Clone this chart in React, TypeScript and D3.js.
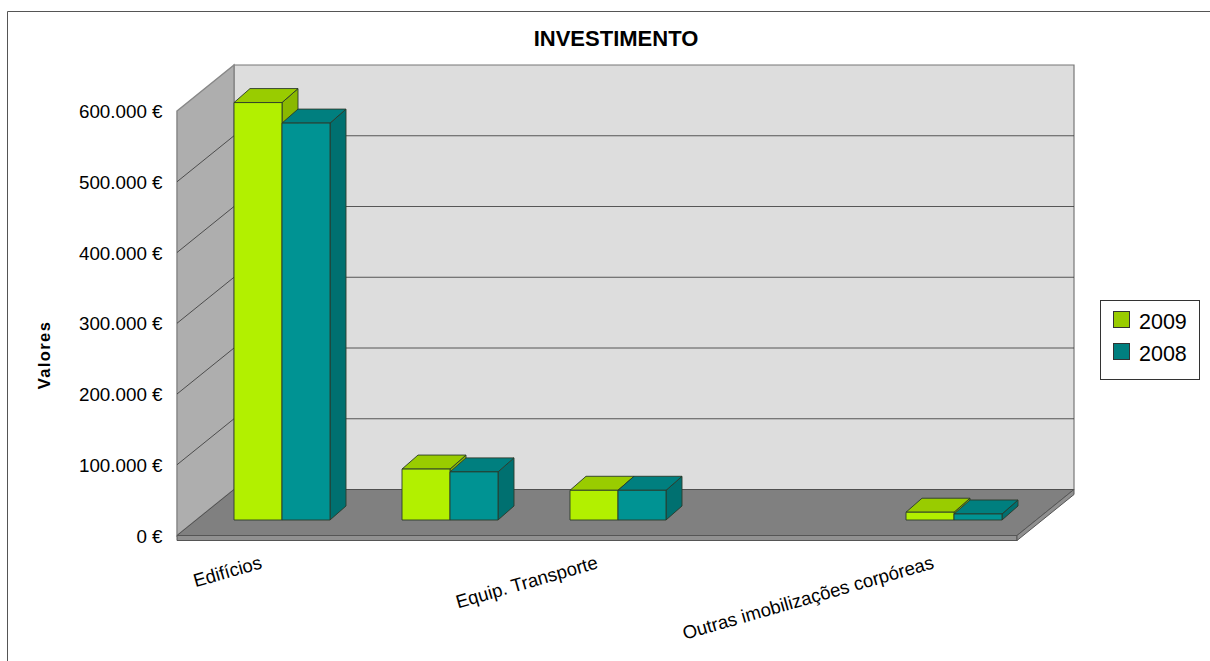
import React from "react";
import * as d3 from "d3";

const categories = ["Edifícios", "", "Equip. Transporte", "", "Outras imobilizações corpóreas"];
const slotIndex = [0, 1, 2, 4];
const series2009 = [590000, 72000, 42000, 11000];
const series2008 = [561000, 68000, 42000, 8500];
const seriesNames = ["2009", "2008"];
const ticks = [0, 100000, 200000, 300000, 400000, 500000, 600000];
const tickLabels = ["0 €", "100.000 €", "200.000 €", "300.000 €", "400.000 €", "500.000 €", "600.000 €"];

const FONT = "'Liberation Sans', Arial, sans-serif";
const DX = 57, DY = -46;
const BDX = 16, BDY = -14;
const BAR_Y_OFFSET = -15.5;

const x = d3.scaleBand<number>().domain(d3.range(categories.length)).range([177, 1017]);
const y = d3.scaleLinear().domain([0, 600000]).range([535.5, 111]);

const poly = (pts: [number, number][]) => pts.map(p => p.join(",")).join(" ");

const colours = [
  { front: "#b2f000", top: "#99cc00", side: "#8ab800" },
  { front: "#009393", top: "#007f7f", side: "#007070" },
];

function Bar({ x0, x1, v, c }: { x0: number; x1: number; v: number; c: typeof colours[0] }) {
  const base = y(0) + BAR_Y_OFFSET;
  const top = y(v) + BAR_Y_OFFSET;
  const edge = { stroke: "#2a3a2a", strokeWidth: 0.9, strokeLinejoin: "round" as const };
  return (
    <g>
      <polygon points={poly([[x1, base], [x1 + BDX, base + BDY], [x1 + BDX, top + BDY], [x1, top]])} fill={c.side} {...edge} />
      <polygon points={poly([[x0, top], [x0 + BDX, top + BDY], [x1 + BDX, top + BDY], [x1, top]])} fill={c.top} {...edge} />
      <rect x={x0} y={top} width={x1 - x0} height={base - top} fill={c.front} {...edge} />
    </g>
  );
}

export default function App() {
  const floorL = x.range()[0], floorR = x.range()[1];
  const y0 = y(0), yMax = y(600000);
  const barW = 48;
  const inset = 57;
  return (
    <svg width={1210} height={661} style={{ position: "absolute", left: 0, top: 0, display: "block" }} fontFamily={FONT}>
      <rect width={1210} height={661} fill="#fff" />
      <path d="M7.5,661V11.5H1210" fill="none" stroke="#555" strokeWidth={1} />

      <text x={616} y={46} textAnchor="middle" fontSize={22} fontWeight="bold" fill="#000">INVESTIMENTO</text>

      {/* walls */}
      <polygon points={poly([[floorL + DX, yMax + DY], [floorR + DX, yMax + DY], [floorR + DX, y0 + DY], [floorL + DX, y0 + DY]])} fill="#dddddd" stroke="#777" strokeWidth={1.2} />
      <polygon points={poly([[floorL, yMax], [floorL + DX, yMax + DY], [floorL + DX, y0 + DY], [floorL, y0]])} fill="#aeaeae" stroke="#888" strokeWidth={1.5} />
      <polygon points={poly([[floorL, y0], [floorL + DX, y0 + DY], [floorR + DX, y0 + DY], [floorR, y0]])} fill="#808080" stroke="#444" strokeWidth={0.8} />
      <polygon points={poly([[floorL, y0], [floorR, y0], [floorR, y0 + 5], [floorL, y0 + 5]])} fill="#909090" stroke="#555" strokeWidth={1} />
      <polygon points={poly([[floorR, y0], [floorR + DX, y0 + DY], [floorR + DX, y0 + DY + 5], [floorR, y0 + 5]])} fill="#909090" stroke="#555" strokeWidth={1} />

      {/* gridlines */}
      {ticks.slice(1, -1).map(t => (
        <g key={t} stroke="#333" strokeWidth={0.8}>
          <line x1={floorL} y1={y(t)} x2={floorL + DX} y2={y(t) + DY} />
          <line x1={floorL + DX} y1={y(t) + DY} x2={floorR + DX} y2={y(t) + DY} />
        </g>
      ))}

      {/* bars: 2009 first, 2008 in front of its side face */}
      {slotIndex.map((s, i) => {
        const x0 = x(s)! + inset;
        return (
          <g key={s}>
            <Bar x0={x0} x1={x0 + barW} v={series2009[i]} c={colours[0]} />
            <Bar x0={x0 + barW} x1={x0 + barW * 2} v={series2008[i]} c={colours[1]} />
          </g>
        );
      })}

      {/* value axis */}
      {ticks.map((t, i) => (
        <text key={t} x={162.5} y={y(t) + 7} textAnchor="end" fontSize={18.8} fill="#000">{tickLabels[i]}</text>
      ))}
      <text transform="translate(50,355) rotate(-90)" textAnchor="middle" fontSize={16.5} fontWeight="bold" letterSpacing={1.4} fill="#000">Valores</text>

      {/* category labels */}
      {categories.map((c, i) =>
        c ? (
          <text key={i} transform={`translate(${x(i)! + 86},${568}) rotate(-16)`} textAnchor="end" fontSize={18.6} fill="#000">{c}</text>
        ) : null
      )}

      {/* legend */}
      <rect x={1100.5} y={300.5} width={99} height={79} fill="#fff" stroke="#333" strokeWidth={1} />
      {seriesNames.map((n, i) => (
        <g key={n}>
          <rect x={1113.5} y={311.5 + i * 32} width={16} height={16} fill={colours[i].top} stroke="#333" strokeWidth={1} />
          <text x={1139} y={329 + i * 32} fontSize={21.5} fill="#000">{n}</text>
        </g>
      ))}
    </svg>
  );
}
